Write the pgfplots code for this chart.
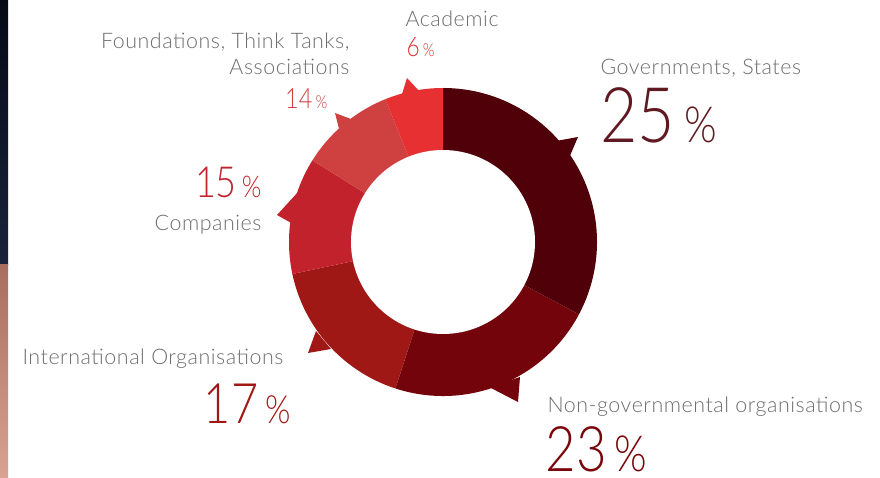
\documentclass[border=0pt]{standalone}
\usepackage{pgfplots}
\pgfplotsset{compat=1.18}
\usepackage{fontspec}
\setmainfont{Lato Light}[LetterSpace=2.5]
\newfontfamily\numfont{Lato Light}[FakeStretch=0.84]
\definecolor{govc}{HTML}{500008}
\definecolor{ngoc}{HTML}{73040B}
\definecolor{intc}{HTML}{A01816}
\definecolor{comc}{HTML}{C1222B}
\definecolor{fndc}{HTML}{CF4040}
\definecolor{acac}{HTML}{E63032}
\definecolor{lblgray}{HTML}{6E6E6E}
\definecolor{navytop}{HTML}{060A16}
\definecolor{navybot}{HTML}{18233C}
\definecolor{skintop}{HTML}{A86E60}
\definecolor{skinbot}{HTML}{D8A392}
\newcommand{\lbl}{\fontsize{21.5}{21.5}\selectfont}
\newcommand{\pct}[3]{{\numfont\fontsize{#1}{#1}\selectfont #3\hspace{0.12em}\fontsize{#2}{#2}\selectfont\%}}
\begin{document}
\begin{tikzpicture}
\begin{axis}[
	x=1bp,y=1bp,
	xmin=0,xmax=880,ymin=0,ymax=478,
	y dir=reverse,
	hide axis,
	clip=true,
	every node/.style={inner sep=0pt}]
% background and photo strip on the left
\addplot[fill=white,draw=none] coordinates {(0,0) (880,0) (880,478) (0,478)};
\addplot[draw=none,top color=navytop,bottom color=navybot] coordinates {(0,0) (8,0) (8,265) (0,265)};
\addplot[draw=none,top color=skintop,bottom color=skinbot] coordinates {(0,265) (8,265) (8,478) (0,478)};
% donut: angles clockwise from the top, as drawn
\fill[govc] (axis cs:443,242) -- ++(90:154bp) arc[start angle=90,end angle=-28,radius=154bp] -- cycle;
\fill[ngoc] (axis cs:443,242) -- ++(-28:154bp) arc[start angle=-28,end angle=-108,radius=154bp] -- cycle;
\fill[intc] (axis cs:443,242) -- ++(-108:154bp) arc[start angle=-108,end angle=-168,radius=154bp] -- cycle;
\fill[comc] (axis cs:443,242) -- ++(-168:154bp) arc[start angle=-168,end angle=-212,radius=154bp] -- cycle;
\fill[fndc] (axis cs:443,242) -- ++(-212:154bp) arc[start angle=-212,end angle=-248,radius=154bp] -- cycle;
\fill[acac] (axis cs:443,242) -- ++(-248:154bp) arc[start angle=-248,end angle=-270,radius=154bp] -- cycle;
% pointer spikes
\addplot[fill=govc,draw=none] coordinates {(556,141) (578,137) (569,158)};
\addplot[fill=ngoc,draw=none] coordinates {(489,387) (518,402) (520,377)};
\addplot[fill=intc,draw=none] coordinates {(316,331) (308,353) (331,349)};
\addplot[fill=comc,draw=none] coordinates {(298,192) (277,215) (293,224)};
\addplot[fill=fndc,draw=none] coordinates {(351,119) (335,113) (339,129)};
\addplot[fill=acac,draw=none] coordinates {(421,93) (407,78) (402,94)};
\fill[white] (axis cs:443,242) circle[radius=92bp];
% labels
\node[anchor=base west,font=\lbl,text=lblgray] at (axis cs:402,27) {Academic};
\node[anchor=base west,text=acac] at (axis cs:403,57) {\pct{27}{18}{6}};
\node[anchor=base east,font=\lbl,text=lblgray] at (axis cs:353,49) {Foundations, Think Tanks,};
\node[anchor=base east,font=\lbl,text=lblgray] at (axis cs:353,75) {Associations};
\node[anchor=base east,text=fndc] at (axis cs:331,109) {\pct{28}{18}{14}};
\node[anchor=base east,text=comc] at (axis cs:265,198) {\pct{43}{30}{15}};
\node[anchor=base east,font=\lbl,text=lblgray] at (axis cs:265,231) {Companies};
\node[anchor=base east,font=\lbl,text=lblgray] at (axis cs:287,364) {International Organisations};
\node[anchor=base east,text=intc] at (axis cs:294,423) {\pct{56}{39}{17}};
\node[anchor=base west,font=\lbl,text=lblgray] at (axis cs:597,75) {Governments, States};
\node[anchor=base west,text=govc!90!white] at (axis cs:597,143) {\pct{77}{50}{25}};
\node[anchor=base west,font=\lbl,text=lblgray] at (axis cs:544,412) {Non-governmental organisations};
\node[anchor=base west,text=ngoc!95!red] at (axis cs:542,471) {\pct{63}{50}{23}};
\end{axis}
\end{tikzpicture}
\end{document}
